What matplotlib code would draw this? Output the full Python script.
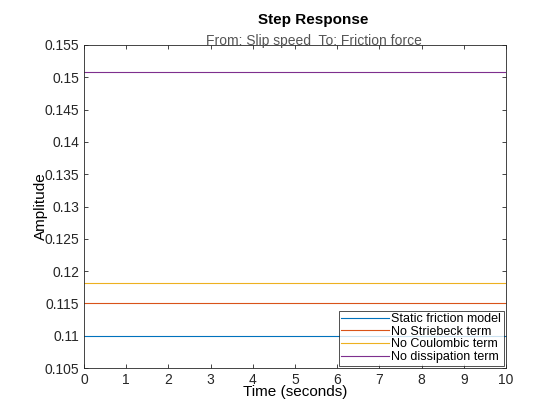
import matplotlib
matplotlib.use("Agg")
import matplotlib.pyplot as plt
import numpy as np

plt.rcParams['font.family'] = ['Liberation Sans', 'DejaVu Sans']

labels = ["Static friction model", "No Striebeck term", "No Coulombic term", "No dissipation term"]
levels = [0.110, 0.1150, 0.1182, 0.1508]
colors = ["#0072BD", "#D95319", "#EDB120", "#7E2F8E"]
t = [0, 10]

fig = plt.figure(figsize=(5.6, 4.2), dpi=100)
ax = fig.add_axes([84/560, 1-368/420, (506-84)/560, (368-45)/420])
for lab, v, c in zip(labels, levels, colors):
    ax.plot(t, [v, v], color=c, lw=0.8, label=lab)
ax.set_xlim(0, 10)
ax.set_ylim(0.105, 0.155)
ax.set_xticks(range(0, 11))
ax.set_yticks(np.arange(0.105, 0.1551, 0.005))
ax.set_yticklabels(["0.105", "0.11", "0.115", "0.12", "0.125", "0.13", "0.135", "0.14", "0.145", "0.15", "0.155"])
for s in ax.spines.values():
    s.set_color("#262626"); s.set_linewidth(0.6)
ax.tick_params(colors="#262626", labelsize=10, direction="in", length=3, width=0.6, top=True, right=True)
ax.set_xlabel("Time (seconds)", fontsize=11, labelpad=-1)
ax.yaxis.set_label_coords(-0.085, 0.5)
ax.set_ylabel("Amplitude", fontsize=11)
fig.text(0.56, 1-20/420, "Step Response", ha="center", va="center", fontsize=11, fontweight="bold")
fig.text(0.56, 1-41/420, "From: Slip speed  To: Friction force", ha="center", va="center", fontsize=10, color="#555555")
leg = ax.legend(loc="lower right", fontsize=9, frameon=True, fancybox=False, borderaxespad=0.2,
                handlelength=3.8, labelspacing=0.05, borderpad=0.2, handletextpad=0.2)
leg.get_frame().set_edgecolor("black"); leg.get_frame().set_linewidth(0.6)
fig.savefig("out.png", dpi=100)
